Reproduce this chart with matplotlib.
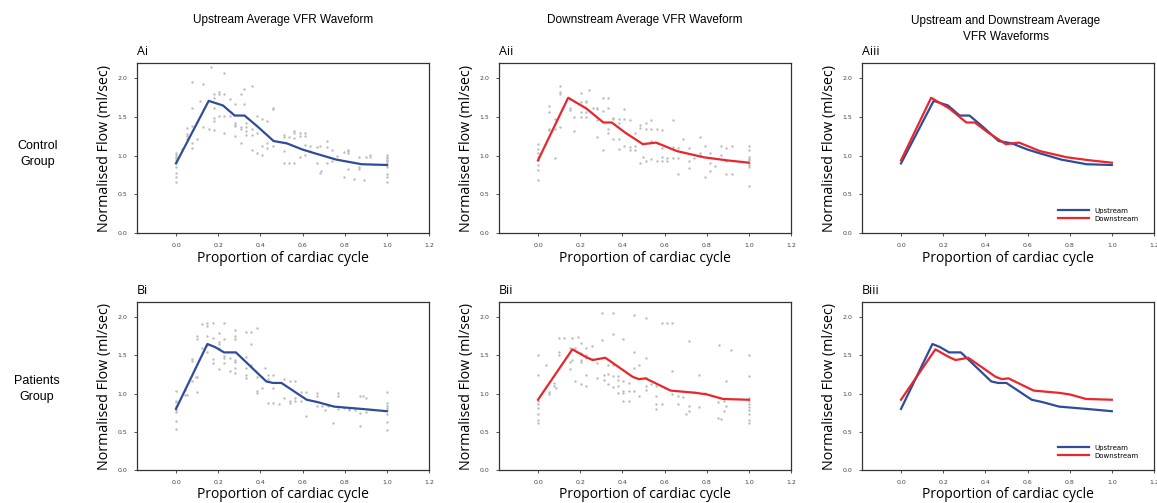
import matplotlib
matplotlib.use("Agg")
import matplotlib.pyplot as plt
import numpy as np

# ---------------- data ----------------
# mean waveforms
up_ctrl_x = [0.0, 0.155, 0.223, 0.278, 0.325, 0.39, 0.463, 0.526, 0.60, 0.66, 0.76, 0.88, 1.0]
up_ctrl_y = [0.90, 1.71, 1.65, 1.52, 1.52, 1.37, 1.19, 1.16, 1.08, 1.03, 0.95, 0.89, 0.88]
dn_ctrl_x = [0.0, 0.143, 0.23, 0.31, 0.35, 0.413, 0.497, 0.56, 0.659, 0.786, 0.897, 1.0]
dn_ctrl_y = [0.94, 1.75, 1.61, 1.43, 1.43, 1.30, 1.15, 1.17, 1.06, 0.98, 0.94, 0.91]
up_pat_x = [0.0, 0.149, 0.185, 0.228, 0.284, 0.428, 0.46, 0.50, 0.62, 0.67, 0.75, 0.88, 1.0]
up_pat_y = [0.80, 1.65, 1.61, 1.54, 1.54, 1.16, 1.14, 1.14, 0.92, 0.89, 0.83, 0.80, 0.77]
dn_pat_x = [0.0, 0.163, 0.227, 0.259, 0.319, 0.449, 0.478, 0.51, 0.629, 0.75, 0.80, 0.878, 1.0]
dn_pat_y = [0.92, 1.58, 1.48, 1.44, 1.47, 1.22, 1.19, 1.20, 1.04, 1.01, 0.99, 0.93, 0.92]

# individual samples (x, y)
up_ctrl_pts_x = [0]*10 + [0.028, 0.052, 0.052, 0.052, 0.052, 0.076, 0.076, 0.076, 0.076, 0.076, 0.10, 0.115, 0.128, 0.128,
    0.155, 0.166, 0.18, 0.18, 0.18, 0.18, 0.18, 0.18, 0.205, 0.205, 0.205, 0.23, 0.23, 0.23, 0.23,
    0.257, 0.257, 0.28, 0.28, 0.28, 0.28, 0.28, 0.308, 0.308, 0.308, 0.308, 0.324, 0.324,
    0.333, 0.333, 0.333, 0.333, 0.36, 0.36, 0.36, 0.36, 0.384, 0.384, 0.384, 0.41, 0.41, 0.41,
    0.43, 0.43, 0.43, 0.46, 0.46, 0.46, 0.51, 0.51, 0.51, 0.51, 0.537, 0.537, 0.56, 0.56, 0.56, 0.56,
    0.586, 0.586, 0.586, 0.613, 0.613, 0.613, 0.613, 0.637, 0.637, 0.668, 0.668, 0.684, 0.684, 0.69,
    0.716, 0.716, 0.716, 0.74, 0.74, 0.763, 0.795, 0.795, 0.818, 0.818, 0.818, 0.818, 0.845,
    0.87, 0.87, 0.87, 0.893, 0.9, 0.918, 0.918] + [1.0]*11
up_ctrl_pts_y = [1.03, 1.01, 0.99, 0.97, 0.95, 0.92, 0.85, 0.78, 0.72, 0.66,
    1.09, 1.36, 1.28, 1.25, 1.22, 1.95, 1.62, 1.39, 1.17, 1.10, 1.22, 1.71, 1.93, 1.37,
    1.35, 2.15, 1.80, 1.75, 1.62, 1.49, 1.45, 1.33, 1.82, 1.80, 1.52, 2.07, 1.80, 1.52, 1.29,
    1.73, 1.51, 1.67, 1.43, 1.40, 1.38, 1.25, 1.80, 1.37, 1.35, 1.17, 1.86, 1.67,
    1.43, 1.37, 1.32, 1.27, 1.90, 1.34, 1.27, 1.08, 1.51, 1.29, 1.03, 1.48, 1.12, 1.01,
    1.45, 1.16, 1.10, 1.62, 1.60, 1.12, 1.27, 1.24, 1.06, 0.90, 1.24, 0.90, 1.32, 1.29, 1.23, 0.90,
    1.29, 1.25, 0.99, 1.29, 1.25, 1.14, 1.01, 1.13, 1.06, 1.11, 0.90, 1.12, 0.78, 0.80,
    1.19, 1.11, 0.91, 1.08, 0.93, 1.00, 1.05, 0.73, 1.08, 1.06, 1.03, 0.83, 0.70,
    0.99, 0.86, 0.83, 0.69, 0.99, 1.01, 0.99] + [1.01, 0.99, 0.97, 0.95, 0.93, 0.91, 0.88, 0.86, 0.76, 0.73, 0.66]

dn_ctrl_pts_x = [0]*8 + [0.05]*4 + [0.08]*3 + [0.103]*4 + [0.151]*3 + [0.17]*2 + [0.203]*4 + [0.23]*4 + [0.243, 0.259] + \
    [0.278]*4 + [0.306]*3 + [0.333]*4 + [0.357]*3 + [0.384]*4 + [0.408]*3 + [0.437]*3 + [0.46]*3 + [0.484]*3 + [0.5] + \
    [0.51]*3 + [0.535]*4 + [0.563]*3 + [0.587]*4 + [0.614]*2 + [0.638]*3 + [0.663]*3 + [0.69] + [0.717]*3 + [0.74] + \
    [0.768]*3 + [0.79]*2 + [0.816]*3 + [0.84] + [0.868]*2 + [0.894]*3 + [0.92]*2 + [1.0]*9
dn_ctrl_pts_y = [1.15, 1.09, 1.03, 0.98, 0.94, 0.88, 0.82, 0.68,
    1.65, 1.56, 1.35, 1.33, 1.48, 1.35, 0.97, 1.90, 1.82, 1.80, 1.37, 1.73, 1.62, 1.59, 1.50, 1.32,
    1.81, 1.69, 1.56, 1.50, 1.71, 1.69, 1.56, 1.50, 1.85, 1.62,
    1.62, 1.60, 1.46, 1.24, 1.75, 1.58, 1.08, 1.75, 1.62, 1.35, 1.29, 1.49, 1.47, 1.22,
    1.48, 1.43, 1.22, 1.09, 1.60, 1.47, 1.12, 1.46, 1.11, 1.07, 1.30, 1.13, 1.07, 1.40, 1.36, 0.90, 0.99,
    1.43, 1.35, 0.93, 1.46, 1.35, 1.19, 0.96, 1.34, 1.17, 0.93, 1.33, 1.10, 0.98, 0.93, 0.97, 0.93,
    1.46, 1.11, 0.97, 1.10, 0.97, 0.77, 1.22, 1.10, 0.93, 0.84, 0.97,
    1.24, 1.03, 1.01, 1.13, 0.73, 1.04, 0.90, 0.80, 0.87, 1.12, 1.01, 1.10, 0.93, 0.77, 1.12, 0.77,
    1.13, 1.07, 0.99, 0.96, 0.94, 0.91, 0.88, 0.85, 0.61]

up_pat_pts_x = [0]*8 + [0.042]*2 + [0.053] + [0.077]*3 + [0.093] + [0.1]*4 + [0.125]*2 + [0.149]*5 + [0.177]*4 + \
    [0.204]*5 + [0.228]*5 + [0.256]*2 + [0.281]*7 + [0.332]*5 + [0.356]*3 + [0.383]*4 + [0.407]*2 + [0.42] + \
    [0.436]*3 + [0.46]*3 + [0.487] + [0.513]*2 + [0.54]*3 + [0.564]*3 + [0.591]*2 + [0.615]*2 + [0.668]*3 + \
    [0.692, 0.708, 0.72, 0.743] + [0.768]*3 + [0.796] + [0.82]*2 + [0.85]*2 + [0.875]*3 + [0.887] + [0.9]*2 + [1.0]*8
up_pat_pts_y = [1.04, 0.91, 0.89, 0.84, 0.78, 0.76, 0.64, 0.54,
    1.05, 0.98, 0.98, 1.45, 1.43, 1.16, 1.22, 1.22, 1.02, 1.76, 1.71, 1.91, 1.60,
    1.93, 1.89, 1.76, 1.64, 1.55, 1.93, 1.73, 1.45, 1.40,
    1.80, 1.68, 1.65, 1.60, 1.32, 1.92, 1.72, 1.49, 1.47, 1.40, 1.47, 1.29,
    1.83, 1.75, 1.71, 1.44, 1.41, 1.33, 1.27, 1.81, 1.48, 1.33, 1.25, 1.21, 1.81, 1.65, 1.37,
    1.86, 1.22, 1.03, 1.01, 1.22, 1.07, 1.33, 1.25, 1.19, 0.88, 1.25, 1.07, 0.88, 0.87,
    1.19, 0.94, 1.16, 0.90, 0.88, 1.17, 0.94, 0.90, 1.02, 0.90, 1.02, 0.71, 1.01, 0.97, 0.84,
    0.84, 0.79, 0.84, 0.61, 1.01, 0.97, 0.80, 0.81, 0.80, 0.78, 0.81, 0.78, 0.97, 0.75, 0.57, 0.97,
    0.94, 0.76, 1.02, 0.88, 0.84, 0.81, 0.78, 0.73, 0.63, 0.52]

dn_pat_pts_x = [0]*8 + [0.037] + [0.05]*2 + [0.076]*2 + [0.087] + [0.1]*3 + [0.124] + [0.151]*3 + [0.163]*2 + [0.176]*2 + \
    [0.192] + [0.203]*5 + [0.227]*5 + [0.256]*2 + [0.279]*2 + [0.303]*2 + [0.314]*2 + [0.33]*3 + [0.354]*5 + \
    [0.378]*4 + [0.405]*5 + [0.433]*3 + [0.457]*4 + [0.481]*2 + [0.51]*5 + [0.537] + [0.56]*4 + [0.587]*2 + \
    [0.611] + [0.635]*3 + [0.663]*2 + [0.687, 0.703] + [0.714]*3 + [0.738] + [0.763]*2 + [0.79] + [0.859] + \
    [0.854]*2 + [0.87] + [0.881]*2 + [0.89]*2 + [0.917] + [1.0]*10
dn_pat_pts_y = [1.51, 1.25, 0.90, 0.87, 0.81, 0.73, 0.66, 0.61,
    1.37, 1.02, 1.00, 1.14, 1.10, 1.07, 1.73, 1.55, 1.50, 1.73, 1.60, 1.41, 1.32, 1.73, 1.44, 1.60, 1.17,
    1.74, 1.66, 1.53, 1.44, 1.41, 1.13, 1.60, 1.50, 1.47, 1.25, 1.10, 1.62, 1.45, 1.40, 1.20,
    2.06, 1.70, 1.25, 1.18, 1.38, 1.26, 1.13, 2.05, 1.78, 1.37, 1.23, 1.09, 1.23, 1.18, 1.10, 1.01,
    1.71, 1.16, 1.03, 1.01, 0.90, 1.14, 1.03, 0.90, 2.03, 1.55, 1.33, 1.03, 1.37, 0.97,
    1.99, 1.47, 1.20, 1.10, 1.05, 1.13, 1.10, 0.97, 0.86, 0.80, 1.93, 0.86, 1.93,
    1.93, 1.29, 1.00, 0.97, 0.86, 0.96, 0.73, 1.69, 0.84, 0.77, 1.02, 1.25, 0.83, 1.01, 1.64,
    0.89, 0.68, 0.67, 0.91, 0.77, 1.16, 0.84, 1.57,
    1.50, 1.23, 0.94, 0.90, 0.87, 0.83, 0.78, 0.73, 0.66, 0.61]

col_titles = ["Upstream Average VFR Waveform", "Downstream Average VFR Waveform",
              "Upstream and Downstream Average\nVFR Waveforms"]
row_titles = ["Control\nGroup", "Patients\nGroup"]
panel_labels = [["Ai", "Aii", "Aiii"], ["Bi", "Bii", "Biii"]]
series_names = ["Upstream", "Downstream"]
x_ticks = [0.0, 0.2, 0.4, 0.6, 0.8, 1.0, 1.2]
y_ticks = [0.0, 0.5, 1.0, 1.5, 2.0]

BLUE = "#2f4c9c"
RED = "#e8262b"
GREY = "#bcbcbc"

# ---------------- figure ----------------
W, H = 1157, 503
fig = plt.figure(figsize=(W / 100, H / 100), dpi=100)
lab_font = "Open Sans"
txt_font = "Liberation Sans"

col_left = [137, 499, 862]
col_w = 292
row_top = [63, 302]
row_h = [170, 168]

def make_ax(r, c):
    l = col_left[c] / W
    b = 1 - (row_top[r] + row_h[r]) / H
    ax = fig.add_axes([l, b, col_w / W, row_h[r] / H])
    ax.set_xlim(-0.185, 1.2)
    ax.set_ylim(0, 2.2)
    ax.set_xticks(x_ticks)
    ax.set_yticks(y_ticks)
    ax.set_xticklabels([f"{v:.1f}" for v in x_ticks])
    ax.set_yticklabels([f"{v:.1f}" for v in y_ticks])
    ax.tick_params(labelsize=4.5, length=2, width=0.6, colors="#333333", pad=5,
                   labelcolor="#444444")
    for s in ax.spines.values():
        s.set_linewidth(0.9)
        s.set_color("#333333")
    ax.set_xlabel("Proportion of cardiac cycle", fontsize=10, family=lab_font, labelpad=2)
    ax.set_ylabel("Normalised Flow (ml/sec)", fontsize=10.3, family=lab_font, labelpad=4)
    ax.text(0.0, 1.03, panel_labels[r][c], transform=ax.transAxes, fontsize=9,
            family=lab_font, ha="left", va="bottom")
    return ax

data = [
    (up_ctrl_x, up_ctrl_y, dn_ctrl_x, dn_ctrl_y, up_ctrl_pts_x, up_ctrl_pts_y, dn_ctrl_pts_x, dn_ctrl_pts_y),
    (up_pat_x, up_pat_y, dn_pat_x, dn_pat_y, up_pat_pts_x, up_pat_pts_y, dn_pat_pts_x, dn_pat_pts_y),
]

for r, (ux, uy, dx, dy, upx, upy, dpx, dpy) in enumerate(data):
    ax = make_ax(r, 0)
    ax.scatter(upx, upy, s=3, color=GREY, linewidths=0, zorder=1)
    ax.plot(ux, uy, color=BLUE, lw=1.6, zorder=2)
    ax = make_ax(r, 1)
    ax.scatter(dpx, dpy, s=3, color=GREY, linewidths=0, zorder=1)
    ax.plot(dx, dy, color=RED, lw=1.6, zorder=2)
    ax = make_ax(r, 2)
    ax.plot(ux, uy, color=BLUE, lw=1.6, label=series_names[0])
    ax.plot(dx, dy, color=RED, lw=1.6, label=series_names[1])
    ax.legend(loc="lower right", frameon=False, fontsize=5, handlelength=4.5,
              handletextpad=0.8, labelspacing=0.3, bbox_to_anchor=(0.97, 0.03))

# column titles
fig.text(283 / W, 1 - 20 / H, col_titles[0], ha="center", va="center", fontsize=8.5, family=txt_font)
fig.text(645 / W, 1 - 20 / H, col_titles[1], ha="center", va="center", fontsize=8.5, family=txt_font)
fig.text(1006 / W, 1 - 29 / H, col_titles[2], ha="center", va="center", fontsize=8.5, family=txt_font,
         linespacing=1.4)

# row titles
fig.text(38 / W, 1 - 154 / H, row_titles[0], ha="center", va="center", fontsize=9, family=txt_font,
         linespacing=1.5)
fig.text(37 / W, 1 - 389 / H, row_titles[1], ha="center", va="center", fontsize=9, family=txt_font,
         linespacing=1.5)

fig.savefig("out.png", dpi=100)
